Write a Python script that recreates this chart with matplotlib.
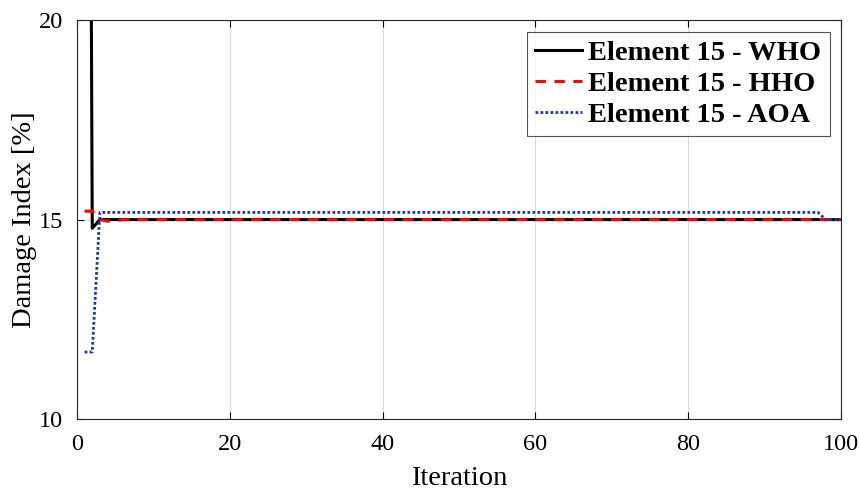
import numpy as np
from matplotlib import pyplot as plt

plt.rcParams['font.family'] = ['Liberation Serif', 'DejaVu Serif']

iterations = np.arange(1, 101)

# WHO: very large start, dip, then 15
who_head = [60.0, 14.78]
who_tail_value = 15.0
# HHO: starts around 15.2
hho_head = [15.21, 15.21, 15.0, 14.96, 14.97]
hho_tail_value = 15.0
# AOA: starts low, jumps to 15.18, drops to 15 near iteration 98
aoa_head = [11.68, 11.68]
aoa_mid_value = 15.18
aoa_mid_end = 97
aoa_tail_value = 15.0

who = who_head + [who_tail_value] * (100 - len(who_head))
hho = hho_head + [hho_tail_value] * (100 - len(hho_head))
aoa = aoa_head + [aoa_mid_value] * (aoa_mid_end - len(aoa_head)) + [aoa_tail_value] * (100 - aoa_mid_end)

fig = plt.figure(figsize=(8.59, 4.91), dpi=100)
ax = fig.add_axes([0.0896, 0.1466, 0.8894, 0.8124])

ax.plot(iterations, who, c='black', lw=2.2, label='Element 15 - WHO')
ax.plot(iterations, hho, c='red', lw=2.2, ls=(0, (3.4, 2.8)), label='Element 15 - HHO')
ax.plot(iterations, aoa, c='#1f3a9e', lw=2.0, ls=(0, (1, 0.8)), label='Element 15 - AOA')

ax.set_xlim(0, 100)
ax.set_ylim(10, 20)
ax.set_xticks([0, 20, 40, 60, 80, 100])
ax.set_yticks([10, 15, 20])
ax.grid(True, color='#d9d9d9', lw=0.8)
ax.set_axisbelow(True)
ax.tick_params(axis='both', which='both', direction='in', top=True, right=True,
               labelsize=17.5, length=5, width=0.8)
ax.tick_params(axis='x', pad=11)
ax.tick_params(axis='y', pad=10)
for s in ax.spines.values():
    s.set_linewidth(0.8)
    s.set_color('#262626')

ax.set_xlabel('Iteration', fontsize=20.5, labelpad=8)
ax.set_ylabel('Damage Index [%]', fontsize=20.5, labelpad=1)

leg = ax.legend(loc='upper right', prop={'weight': 'bold', 'size': 20.5},
                frameon=True, fancybox=False, edgecolor='#262626',
                handlelength=1.65, handletextpad=0.2, borderpad=0.3,
                labelspacing=0.17, borderaxespad=0.4)
leg.get_frame().set_linewidth(0.8)

plt.savefig('out.png', dpi=100)
